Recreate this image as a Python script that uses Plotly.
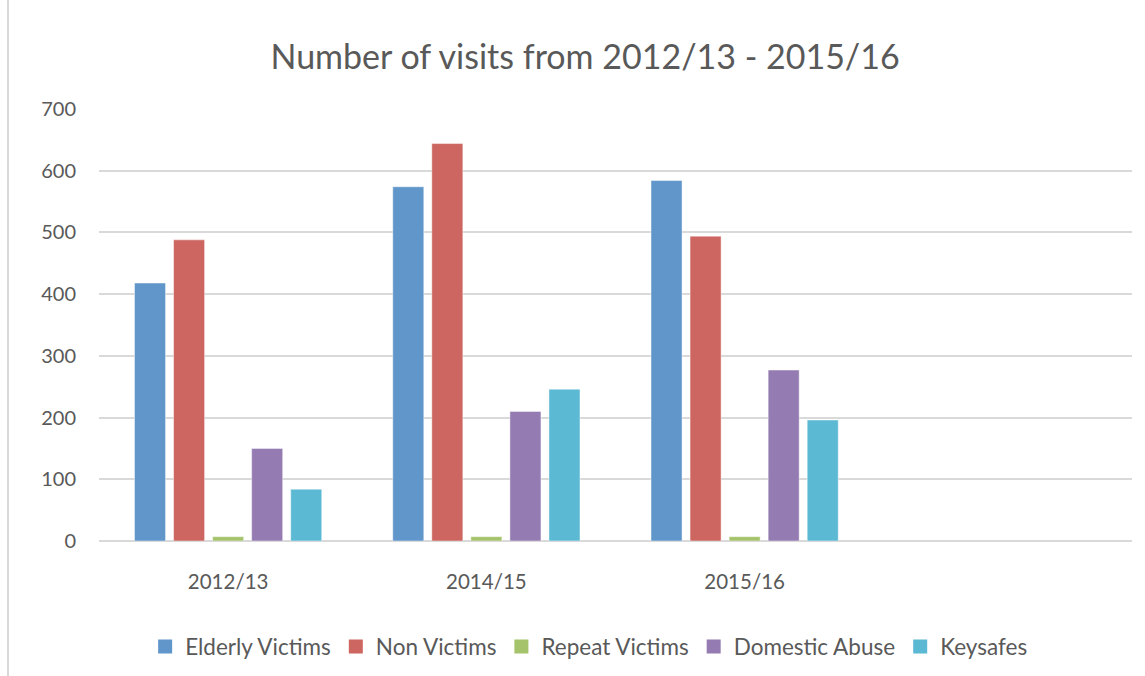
import plotly.graph_objects as go

categories = ["2012/13", "2014/15", "2015/16"]
series_names = ["Elderly Victims", "Non Victims", "Repeat Victims", "Domestic Abuse", "Keysafes"]
elderly = [418, 574, 584]
non_victims = [488, 644, 494]
repeat_victims = [7, 7, 7]
domestic_abuse = [150, 210, 277]
keysafes = [84, 246, 196]
y_ticks = [0, 100, 200, 300, 400, 500, 600, 700]

colors = ["#6096CA", "#CD6660", "#A4C36A", "#947BB2", "#5CB9D3"]
values = [elderly, non_victims, repeat_victims, domestic_abuse, keysafes]

FONT = "Lato"
TXT = "#595959"

fig = go.Figure()
for name, vals, col in zip(series_names, values, colors):
    fig.add_trace(go.Bar(
        x=categories, y=vals, name=name, showlegend=False, legendgroup=name,
        marker=dict(color=col, line=dict(color="rgba(255,255,255,0.45)", width=1)),
    ))
# legend proxies with larger square swatches
for name, col in zip(series_names, colors):
    fig.add_trace(go.Scatter(
        x=[None], y=[None], mode="markers", name=name, legendgroup=name,
        marker=dict(symbol="square", size=14, color=col, line=dict(width=0)),
    ))

fig.update_layout(
    width=1145, height=676,
    margin=dict(l=99, r=13, t=109, b=135, autoexpand=False),
    paper_bgcolor="white", plot_bgcolor="white",
    barmode="group", bargap=0.244, bargroupgap=0.205,
    title=dict(text="Number of visits from 2012/13 - 2015/16",
               x=0.511, xanchor="center", y=0.916, yanchor="middle",
               font=dict(family=FONT, size=34, color=TXT)),
    font=dict(family=FONT, color=TXT),
    legend=dict(orientation="h", x=0.474, xanchor="center", y=-0.245, yanchor="middle",
                font=dict(family=FONT, size=22.5, color=TXT), itemwidth=30,
                traceorder="normal"),
    xaxis=dict(type="category", range=[-0.5, 3.5], showgrid=False, showline=False,
               ticks="", tickfont=dict(size=20.5, color=TXT), ticklabelstandoff=26),
    yaxis=dict(range=[0, 700], tickvals=y_ticks, showgrid=True, gridcolor="#D9D9D9",
               gridwidth=1.5, zeroline=True, zerolinecolor="#D9D9D9", zerolinewidth=1.5,
               showline=False, ticks="", tickfont=dict(size=20, color=TXT),
               ticklabelstandoff=22),
    shapes=[dict(type="path", xref="paper", yref="paper",
                 path="M 1.2,1.2569 L -0.0881,1.2569 L -0.0881,-0.35",
                 line=dict(color="#D9D9D9", width=2), layer="below")],
)

fig.write_html("out.html")
